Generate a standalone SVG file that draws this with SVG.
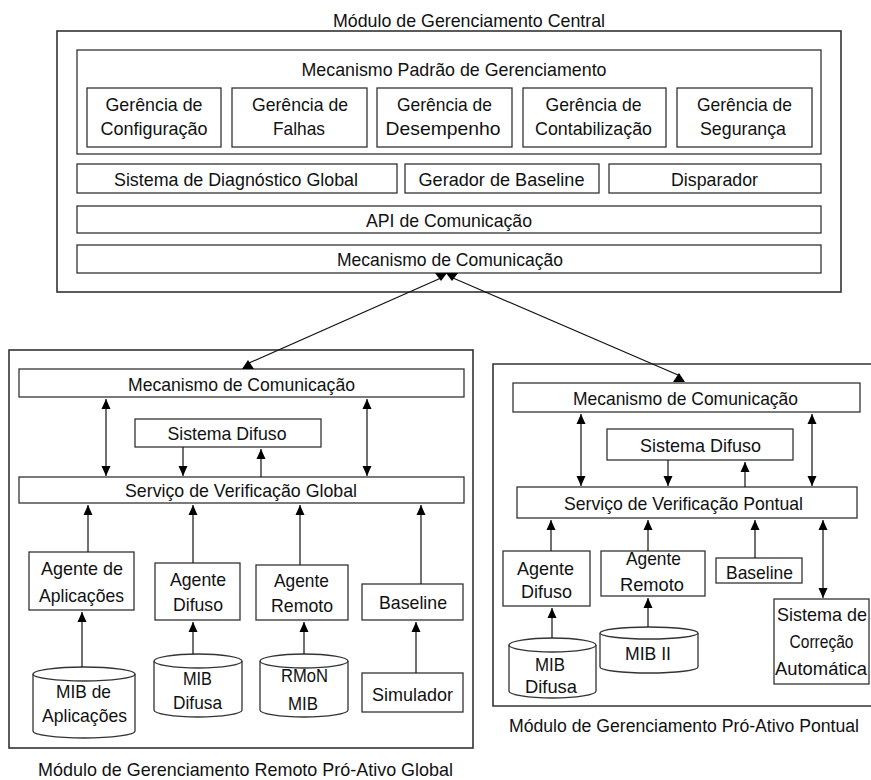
<svg xmlns="http://www.w3.org/2000/svg" width="871" height="780" viewBox="0 0 871 780">
<style>
  .box { fill: #fff; stroke: #333; stroke-width: 1.3; }
  .mod { fill: #fff; stroke: #333; stroke-width: 1.6; }
  .cyl { fill: #fff; stroke: #333; stroke-width: 1.3; }
  text { font-family: "Liberation Sans", Arial, sans-serif; font-size: 19px; fill: #111; text-anchor: middle; }
  .ln { stroke: #111; stroke-width: 1.2; fill: none; }
  .tri { fill: #000; }
</style>
<defs>
  <marker id="ah" viewBox="0 0 10 10" refX="10" refY="5" markerWidth="10" markerHeight="10" markerUnits="userSpaceOnUse" orient="auto-start-reverse">
    <path d="M0,0.5 L10,5 L0,9.5 z" fill="#000"/>
  </marker>
</defs>

<!-- Central module -->
<g id="central-module">
  <rect class="mod" x="57" y="31" width="784" height="261"/>
  <text x="469" y="27" textLength="272" lengthAdjust="spacingAndGlyphs">Módulo de Gerenciamento Central</text>
</g>
<g id="mecanismo-padrao">
  <rect class="box" x="77" y="50" width="744" height="104"/>
  <text x="454" y="76" textLength="305" lengthAdjust="spacingAndGlyphs">Mecanismo Padrão de Gerenciamento</text>
</g>
<g id="ger-config">
  <rect class="box" x="87" y="88" width="134" height="59"/>
  <text x="154" y="111" textLength="97" lengthAdjust="spacingAndGlyphs">Gerência de</text>
  <text x="154" y="135" textLength="107" lengthAdjust="spacingAndGlyphs">Configuração</text>
</g>
<g id="ger-falhas">
  <rect class="box" x="232" y="88" width="135" height="59"/>
  <text x="300" y="111" textLength="96" lengthAdjust="spacingAndGlyphs">Gerência de</text>
  <text x="299" y="135" textLength="52" lengthAdjust="spacingAndGlyphs">Falhas</text>
</g>
<g id="ger-desempenho">
  <rect class="box" x="377" y="88" width="135" height="59"/>
  <text x="444.5" y="111" textLength="95" lengthAdjust="spacingAndGlyphs">Gerência de</text>
  <text x="443" y="135" textLength="115" lengthAdjust="spacingAndGlyphs">Desempenho</text>
</g>
<g id="ger-contab">
  <rect class="box" x="523" y="88" width="143" height="59"/>
  <text x="593.5" y="111" textLength="96" lengthAdjust="spacingAndGlyphs">Gerência de</text>
  <text x="593.5" y="135" textLength="117" lengthAdjust="spacingAndGlyphs">Contabilização</text>
</g>
<g id="ger-seguranca">
  <rect class="box" x="677" y="88" width="135" height="59"/>
  <text x="744.5" y="111" textLength="95" lengthAdjust="spacingAndGlyphs">Gerência de</text>
  <text x="743" y="135" textLength="86" lengthAdjust="spacingAndGlyphs">Segurança</text>
</g>
<g id="diag-global">
  <rect class="box" x="77" y="164" width="320" height="29"/>
  <text x="236" y="186" textLength="244" lengthAdjust="spacingAndGlyphs">Sistema de Diagnóstico Global</text>
</g>
<g id="gerador-baseline">
  <rect class="box" x="405" y="164" width="194" height="29"/>
  <text x="501.5" y="186" textLength="166" lengthAdjust="spacingAndGlyphs">Gerador de Baseline</text>
</g>
<g id="disparador">
  <rect class="box" x="609" y="164" width="212" height="29"/>
  <text x="714.5" y="186" textLength="87" lengthAdjust="spacingAndGlyphs">Disparador</text>
</g>
<g id="api">
  <rect class="box" x="77" y="206" width="744" height="27"/>
  <text x="449" y="227" textLength="166" lengthAdjust="spacingAndGlyphs">API de Comunicação</text>
</g>
<g id="mec-central">
  <rect class="box" x="77" y="245" width="744" height="28"/>
  <text x="450" y="266" textLength="226" lengthAdjust="spacingAndGlyphs">Mecanismo de Comunicação</text>
</g>

<!-- Left module -->
<g id="left-module">
  <rect class="mod" x="9" y="350" width="464" height="398"/>
  <text x="245.5" y="776" textLength="415" lengthAdjust="spacingAndGlyphs">Módulo de Gerenciamento Remoto Pró-Ativo Global</text>
</g>
<g id="l-mec">
  <rect class="box" x="19" y="369" width="445" height="28"/>
  <text x="241.5" y="391" textLength="227" lengthAdjust="spacingAndGlyphs">Mecanismo de Comunicação</text>
</g>
<g id="l-difuso">
  <rect class="box" x="135" y="419" width="186" height="28"/>
  <text x="227" y="440" textLength="119" lengthAdjust="spacingAndGlyphs">Sistema Difuso</text>
</g>
<g id="l-servico">
  <rect class="box" x="19" y="477" width="445" height="26"/>
  <text x="241" y="497" textLength="232" lengthAdjust="spacingAndGlyphs">Serviço de Verificação Global</text>
</g>
<g id="l-ag-aplic">
  <rect class="box" x="29" y="552" width="105" height="58"/>
  <text x="82" y="575" textLength="82" lengthAdjust="spacingAndGlyphs">Agente de</text>
  <text x="81.5" y="602" textLength="85" lengthAdjust="spacingAndGlyphs">Aplicações</text>
</g>
<g id="l-ag-difuso">
  <rect class="box" x="155" y="563" width="85" height="57"/>
  <text x="198" y="586" textLength="56" lengthAdjust="spacingAndGlyphs">Agente</text>
  <text x="198" y="611" textLength="50" lengthAdjust="spacingAndGlyphs">Difuso</text>
</g>
<g id="l-ag-remoto">
  <rect class="box" x="256" y="565" width="92" height="55"/>
  <text x="301.5" y="587" textLength="55" lengthAdjust="spacingAndGlyphs">Agente</text>
  <text x="302" y="612" textLength="62" lengthAdjust="spacingAndGlyphs">Remoto</text>
</g>
<g id="l-baseline">
  <rect class="box" x="362" y="584" width="101" height="36"/>
  <text x="413" y="609" textLength="68" lengthAdjust="spacingAndGlyphs">Baseline</text>
</g>
<g id="l-mib-aplic">
  <path class="cyl" d="M33,674 L33,731 A51,7 0 0 0 135,731 L135,674"/>
  <ellipse class="cyl" cx="84" cy="674" rx="51" ry="7"/>
  <text x="83.5" y="698" textLength="55" lengthAdjust="spacingAndGlyphs">MIB de</text>
  <text x="84.5" y="722" textLength="85" lengthAdjust="spacingAndGlyphs">Aplicações</text>
</g>
<g id="l-mib-difusa">
  <path class="cyl" d="M154,661 L154,710 A44,7 0 0 0 242,710 L242,661"/>
  <ellipse class="cyl" cx="198" cy="661" rx="44" ry="7"/>
  <text x="197.5" y="685" textLength="29" lengthAdjust="spacingAndGlyphs">MIB</text>
  <text x="197.5" y="709" textLength="49" lengthAdjust="spacingAndGlyphs">Difusa</text>
</g>
<g id="l-rmon">
  <path class="cyl" d="M260,661 L260,710 A44,7 0 0 0 348,710 L348,661"/>
  <ellipse class="cyl" cx="304" cy="661" rx="44" ry="7"/>
  <text x="304.5" y="682" textLength="47" lengthAdjust="spacingAndGlyphs">RMoN</text>
  <text x="303" y="710" textLength="30" lengthAdjust="spacingAndGlyphs">MIB</text>
</g>
<g id="l-simulador">
  <rect class="box" x="362" y="673" width="101" height="39"/>
  <text x="412.5" y="701" textLength="81" lengthAdjust="spacingAndGlyphs">Simulador</text>
</g>

<!-- Right module (right edge lies beyond the picture) -->
<g id="right-module">
  <rect x="493" y="364" width="378" height="342" fill="#fff"/>
  <path class="mod" d="M871,364 L493,364 L493,706 L871,706" fill="none"/>
  <text x="684" y="732" style="font-size:17.6px" textLength="350" lengthAdjust="spacingAndGlyphs">Módulo de Gerenciamento Pró-Ativo Pontual</text>
</g>
<g id="r-mec">
  <rect class="box" x="513" y="383" width="347" height="29"/>
  <text x="685.5" y="405" textLength="225" lengthAdjust="spacingAndGlyphs">Mecanismo de Comunicação</text>
</g>
<g id="r-difuso">
  <rect class="box" x="607" y="429" width="186" height="31"/>
  <text x="700.5" y="452" textLength="121" lengthAdjust="spacingAndGlyphs">Sistema Difuso</text>
</g>
<g id="r-servico">
  <rect class="box" x="517" y="487" width="340" height="31"/>
  <text x="683.5" y="510" textLength="239" lengthAdjust="spacingAndGlyphs">Serviço de Verificação Pontual</text>
</g>
<g id="r-ag-difuso">
  <rect class="box" x="503" y="551" width="87" height="55"/>
  <text x="545.5" y="575" textLength="57" lengthAdjust="spacingAndGlyphs">Agente</text>
  <text x="546.5" y="598" textLength="51" lengthAdjust="spacingAndGlyphs">Difuso</text>
</g>
<g id="r-ag-remoto">
  <rect class="box" x="601" y="551" width="104" height="45"/>
  <text x="653.5" y="565" textLength="55" lengthAdjust="spacingAndGlyphs">Agente</text>
  <text x="652" y="591" textLength="64" lengthAdjust="spacingAndGlyphs">Remoto</text>
</g>
<g id="r-baseline">
  <rect class="box" x="716" y="558" width="86" height="25"/>
  <text x="759.5" y="579" textLength="67" lengthAdjust="spacingAndGlyphs">Baseline</text>
</g>
<g id="r-correcao">
  <rect class="box" x="774" y="599" width="95" height="85"/>
  <text x="822" y="621" textLength="90" lengthAdjust="spacingAndGlyphs">Sistema de</text>
  <text x="821.5" y="648" textLength="64" lengthAdjust="spacingAndGlyphs">Correção</text>
  <text x="821" y="675" textLength="92" lengthAdjust="spacingAndGlyphs">Automática</text>
</g>
<g id="r-mib-difusa">
  <path class="cyl" d="M509,645 L509,691 A43.5,7 0 0 0 596,691 L596,645"/>
  <ellipse class="cyl" cx="552.5" cy="645" rx="43.5" ry="7"/>
  <text x="550" y="671" textLength="30" lengthAdjust="spacingAndGlyphs">MIB</text>
  <text x="551" y="693" textLength="52" lengthAdjust="spacingAndGlyphs">Difusa</text>
</g>
<g id="r-mib2">
  <path class="cyl" d="M600,633 L600,667 A49,6 0 0 0 698,667 L698,633"/>
  <ellipse class="cyl" cx="649" cy="633" rx="49" ry="6"/>
  <text x="648" y="660" textLength="46" lengthAdjust="spacingAndGlyphs">MIB II</text>
</g>

<!-- Connectors -->
<g id="connectors">
  <!-- central to modules -->
  <line class="ln" x1="441" y1="278" x2="249" y2="363"/>
  <line class="ln" x1="453" y1="278" x2="678" y2="375"/>
  <polygon class="tri" points="435,273 447,273 441,281"/>
  <polygon class="tri" points="446,273 458,273 452,281"/>
  <polygon class="tri" points="248,360 242,369 254,369"/>
  <polygon class="tri" points="679,373 673,382 685,382"/>

  <!-- left module -->
  <line class="ln" x1="106" y1="399" x2="106" y2="476" marker-start="url(#ah)" marker-end="url(#ah)"/>
  <line class="ln" x1="367" y1="399" x2="367" y2="476" marker-start="url(#ah)" marker-end="url(#ah)"/>
  <line class="ln" x1="183" y1="447" x2="183" y2="476" marker-end="url(#ah)"/>
  <line class="ln" x1="261" y1="477" x2="261" y2="449" marker-end="url(#ah)"/>
  <line class="ln" x1="88" y1="552" x2="88" y2="505" marker-end="url(#ah)"/>
  <line class="ln" x1="193" y1="563" x2="193" y2="505" marker-end="url(#ah)"/>
  <line class="ln" x1="300" y1="565" x2="300" y2="505" marker-end="url(#ah)"/>
  <line class="ln" x1="421" y1="584" x2="421" y2="505" marker-end="url(#ah)"/>
  <line class="ln" x1="82" y1="667" x2="82" y2="612" marker-end="url(#ah)"/>
  <line class="ln" x1="193" y1="654" x2="193" y2="622" marker-end="url(#ah)"/>
  <line class="ln" x1="304" y1="654" x2="304" y2="622" marker-end="url(#ah)"/>
  <line class="ln" x1="416" y1="673" x2="416" y2="622" marker-end="url(#ah)"/>

  <!-- right module -->
  <line class="ln" x1="581" y1="414" x2="581" y2="486" marker-start="url(#ah)" marker-end="url(#ah)"/>
  <line class="ln" x1="812" y1="414" x2="812" y2="486" marker-start="url(#ah)" marker-end="url(#ah)"/>
  <line class="ln" x1="668" y1="460" x2="668" y2="486" marker-end="url(#ah)"/>
  <line class="ln" x1="745" y1="487" x2="745" y2="462" marker-end="url(#ah)"/>
  <line class="ln" x1="551" y1="551" x2="551" y2="520" marker-end="url(#ah)"/>
  <line class="ln" x1="648" y1="551" x2="648" y2="520" marker-end="url(#ah)"/>
  <line class="ln" x1="755" y1="558" x2="755" y2="520" marker-end="url(#ah)"/>
  <line class="ln" x1="823" y1="520" x2="823" y2="598" marker-start="url(#ah)" marker-end="url(#ah)"/>
  <line class="ln" x1="552" y1="638" x2="552" y2="608" marker-end="url(#ah)"/>
  <line class="ln" x1="648" y1="627" x2="648" y2="598" marker-end="url(#ah)"/>
</g>
</svg>
